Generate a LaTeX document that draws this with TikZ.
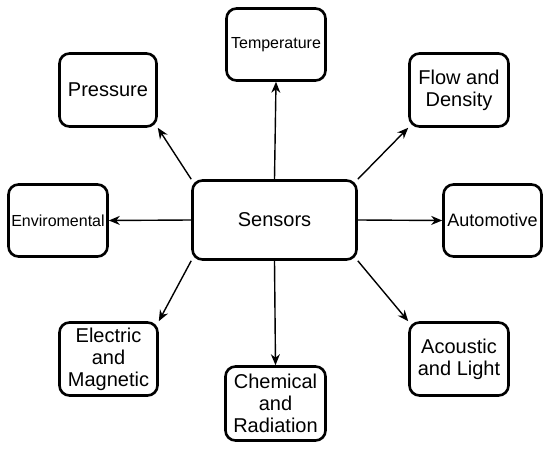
\documentclass[tikz,border=0pt]{standalone}
\usepackage{fontspec}
\setmainfont{Liberation Sans}
\usetikzlibrary{arrows.meta}
\begin{document}
\begin{tikzpicture}[x=1pt,y=-1pt,
  box/.style={draw=black, line width=2.6pt, rounded corners=10pt, fill=white,
    align=center, inner sep=2pt, font=\fontsize{20}{22}\selectfont},
  small/.style={font=\fontsize{16}{19}\selectfont},
  arr/.style={line width=1.4pt, -{Stealth[length=11pt,width=9pt]}}]
\useasboundingbox (0,0) rectangle (550,449);
\node[box, minimum width=164pt, minimum height=79pt] (s) at (274.5,220) {Sensors};
\node[box, small, minimum width=99pt, minimum height=72pt] (t) at (276,44.5) {Temperature};
\node[box, minimum width=97pt, minimum height=73pt] (p) at (108,90) {Pressure};
\node[box, minimum width=99pt, minimum height=73pt] (f) at (459,90) {Flow and\\Density};
\node[box, small, minimum width=99pt, minimum height=72pt, inner sep=0pt] (e) at (58,220.5) {Enviromental};
\node[box, font=\fontsize{18}{21}\selectfont, minimum width=98pt, minimum height=72pt, inner sep=0pt] (a) at (492.5,220.5) {Automotive};
\node[box, minimum width=98pt, minimum height=73pt] (m) at (108.5,359) {Electric\\and\\Magnetic};
\node[box, minimum width=100pt, minimum height=74pt] (c) at (275.5,403.5) {Chemical\\and\\Radiation};
\node[box, minimum width=99pt, minimum height=73pt] (l) at (459,359) {Acoustic\\and Light};
\draw[arr] (s.north) -- (t.south);
\draw[arr] (s.north west) -- (p.south east);
\draw[arr] (s.north east) -- (f.south west);
\draw[arr] (s.west) -- (e.east);
\draw[arr] (s.east) -- (a.west);
\draw[arr] (s.south west) -- (m.north east);
\draw[arr] (s.south) -- (c.north);
\draw[arr] (s.south east) -- (l.north west);
\end{tikzpicture}
\end{document}
